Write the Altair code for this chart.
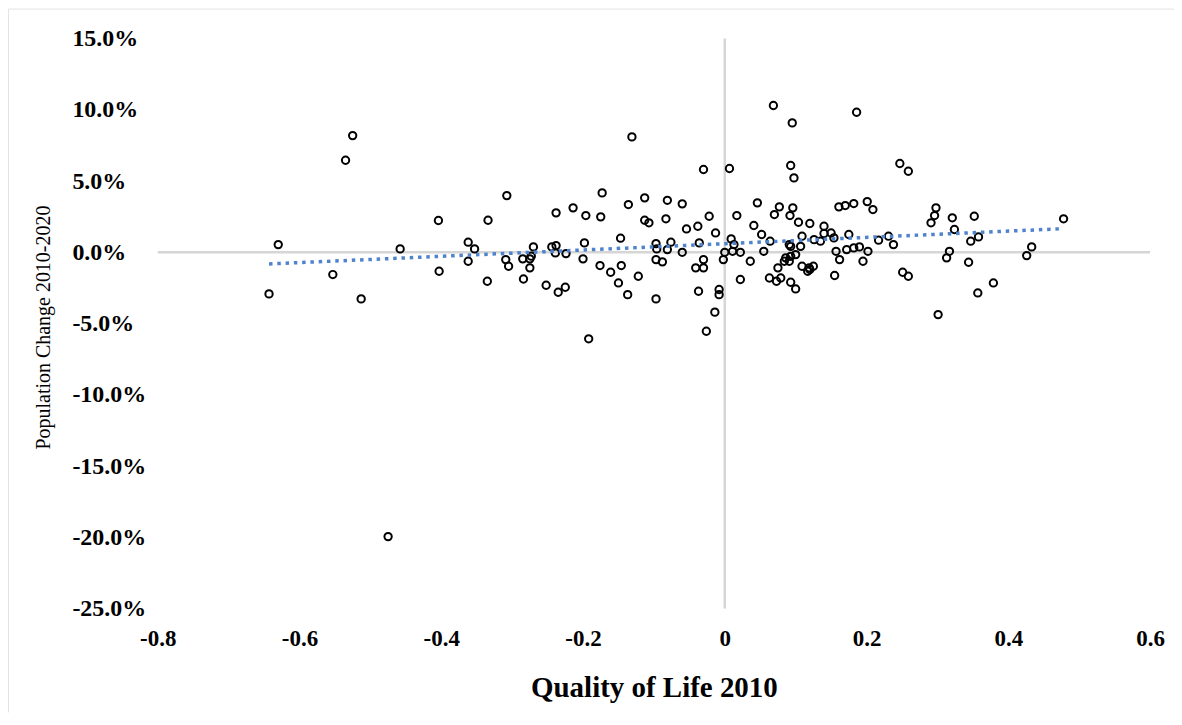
import altair as alt
import pandas as pd

# Quality of Life 2010 (x) and Population Change 2010-2020 (y, in percent)
quality_of_life = [
    -0.525, -0.535, -0.630, -0.458, -0.404, -0.403, -0.553, -0.643, -0.513, -0.475,
    -0.3075, -0.334, -0.362, -0.353, -0.362, -0.335, -0.309, -0.305, -0.284, -0.285,
    -0.275, -0.270, -0.275, -0.273, -0.252, -0.235, -0.225, -0.244, -0.238, -0.239,
    -0.224, -0.238, -0.214, -0.196, -0.198, -0.200, -0.192, -0.173, -0.175, -0.136,
    -0.147, -0.176, -0.161, -0.146, -0.150, -0.137, -0.122,
    -0.131, 0.0686, 0.0952, -0.030, 0.0066, 0.093, 0.0976, -0.113, -0.081, -0.060,
    -0.113, -0.107, -0.083, -0.054, -0.038, -0.022, -0.013, 0.017, 0.046, 0.041,
    0.052, 0.077, 0.070, 0.092, 0.096, -0.097, -0.096, -0.097, -0.088, -0.076,
    -0.081, -0.060, -0.036, -0.030, -0.041, -0.030, -0.097, -0.037, -0.008, -0.008,
    -0.014, -0.026, 0.009, 0.000, 0.013, 0.011, 0.022, -0.002, 0.036, 0.055,
    0.064, 0.022, 0.063, 0.073, 0.079, 0.075, 0.084, 0.091, 0.093, 0.100,
    0.186, 0.247, 0.259, 0.104, 0.120, 0.161, 0.170, 0.182, 0.201, 0.209,
    0.140, 0.140, 0.150, 0.109, 0.107, 0.126, 0.135, 0.175, 0.217, 0.231,
    0.238, 0.093, 0.093, 0.100, 0.091, 0.157, 0.172, 0.182, 0.190, 0.202,
    0.162, 0.195, 0.109, 0.117, 0.125, 0.120, 0.155, 0.251, 0.259, 0.301,
    0.298, 0.296, 0.291, 0.321, 0.324, 0.317, 0.313,
    0.352, 0.347, 0.358, 0.344, 0.379, 0.357, 0.433, 0.426, 0.478,
    0.086, 0.119, 0.154,
]
population_change_pct = [
    8.19, 6.46, 0.54, 0.24, 2.23, -1.33, -1.56, -2.92, -3.27, -19.95,
    3.98, 2.25, 0.71, 0.24, -0.63, -2.03, -0.51, -0.98, -1.87, -0.46,
    -0.46, 0.38, -1.09, -0.27, -2.31, -2.80, -2.45, 0.38, 0.47, -0.04,
    -0.09, 2.77, 3.12, 2.58, 0.66, -0.46, -6.07, 4.17, 2.49, 3.35,
    0.99, -0.93, -1.40, -0.93, -2.15, -2.97, -1.68,
    8.10, 10.30, 9.08, 5.81, 5.88, 6.09, 5.22, 3.82, 3.65, 3.40,
    2.25, 2.07, 2.35, 1.64, 1.83, 2.53, 1.36, 2.58, 3.47, 1.88,
    1.25, 3.19, 2.65, 2.58, 3.12, 0.61, 0.24, -0.51, -0.67, 0.71,
    0.19, 0.00, 0.66, -0.51, -1.09, -1.09, -3.27, -2.73, -2.61, -2.97,
    -4.20, -5.54, 0.94, 0.00, 0.54, 0.07, 0.00, -0.51, -0.63, 0.07,
    0.78, -1.91, -1.80, -2.03, -1.80, -1.09, -0.63, 0.54, -2.10, -2.57,
    9.83, 6.23, 5.69, 2.11, 2.02, 3.19, 3.28, 3.42, 3.56, 3.00,
    1.83, 1.32, 1.36, 1.13, 0.42, 0.89, 0.78, 1.25, 0.85, 1.13,
    0.54, 0.42, -0.28, -0.16, -0.63, 0.07, 0.19, 0.31, 0.38, 0.07,
    -0.51, -0.63, -0.98, -1.33, -0.98, -1.21, -1.63, -1.40, -1.68, -4.37,
    3.12, 2.58, 2.07, 2.42, 1.60, 0.07, -0.39,
    2.53, 0.78, 1.08, -0.70, -2.15, -2.85, 0.38, -0.23, 2.35,
    -0.39, -1.09, 1.01,
]

x_ticks = [-0.8, -0.6, -0.4, -0.2, 0.0, 0.2, 0.4, 0.6]
y_ticks = [-0.25, -0.20, -0.15, -0.10, -0.05, 0.0, 0.05, 0.10, 0.15]

df = pd.DataFrame({
    "qol": quality_of_life,
    "pop": [v / 100 for v in population_change_pct],
})

FONT = "Liberation Serif"
W, H = 994, 571
PAD_R = 24

x_scale = alt.Scale(domain=[-0.8, 0.6], nice=False, zero=False)
y_scale = alt.Scale(domain=[-0.25, 0.15], nice=False, zero=False)

x_axis = alt.Axis(
    values=x_ticks,
    labelExpr="toString(round(datum.value * 10) / 10)",
    title="Quality of Life 2010",
    domain=False, grid=False, ticks=False, tickSize=0, labelFlush=False,
    labelFont=FONT, labelFontSize=23, labelFontWeight="bold", labelColor="#000000",
    labelBaseline="alphabetic", labelPadding=37,
    titleFont=FONT, titleFontSize=29, titleFontWeight="bold", titleColor="#000000",
    titleBaseline="alphabetic", titleY=88,
)
y_axis = alt.Axis(
    values=y_ticks,
    labelExpr="(datum.value < -0.0001 ? '-' : '') + format(abs(datum.value), '.1%')",
    title="Population Change 2010-2020",
    domain=False, grid=False, ticks=False, tickSize=0, labelFlush=False,
    labelFont=FONT, labelFontSize=24, labelFontWeight="bold", labelColor="#000000",
    labelAlign="left", labelPadding=86,
    titleFont=FONT, titleFontSize=20, titleFontWeight="normal", titleColor="#000000",
    titleAngle=270, titleBaseline="middle", titleAlign="center",
    titleX=-114, titleY=289,
)

zero_v = alt.Chart(pd.DataFrame({"qol": [0.0]})).mark_rule(
    color="#d6d6d6", strokeWidth=2.5
).encode(x=alt.X("qol:Q", scale=x_scale, axis=x_axis))

zero_h = alt.Chart(pd.DataFrame({"pop": [0.0]})).mark_rule(
    color="#d6d6d6", strokeWidth=2.5
).encode(y=alt.Y("pop:Q", scale=y_scale, axis=y_axis))

points = alt.Chart(df).mark_point(
    shape="circle", filled=False, color="#000000", size=54, strokeWidth=2.0, opacity=1
).encode(
    x=alt.X("qol:Q", scale=x_scale, axis=x_axis),
    y=alt.Y("pop:Q", scale=y_scale, axis=y_axis),
)

trend = alt.Chart(df).transform_regression("qol", "pop").mark_line(
    color="#4f83cc", strokeWidth=3.5, strokeDash=[3.5, 4.8], strokeCap="butt"
).encode(
    x=alt.X("qol:Q", scale=x_scale, axis=x_axis),
    y=alt.Y("pop:Q", scale=y_scale, axis=y_axis),
)

border_df = pd.DataFrame({"k": [0]})
border_top = alt.Chart(border_df).mark_rule(color="#e3e3e3", strokeWidth=1).encode(
    x=alt.value(-149.5), x2=alt.value(W + PAD_R), y=alt.value(-29.5)
)
border_left = alt.Chart(border_df).mark_rule(color="#e3e3e3", strokeWidth=1).encode(
    x=alt.value(-149.5), y=alt.value(-29.5), y2=alt.value(H + 104)
)

chart = alt.layer(border_top, border_left, zero_v, zero_h, points, trend).properties(
    width=W, height=H,
    autosize=alt.AutoSizeParams(type="none"),
    padding={"left": 150, "top": 30, "right": PAD_R, "bottom": 105},
    background="#ffffff",
).configure_view(stroke=None)

chart.save("out.html", embed_options={"renderer": "svg", "actions": False})
